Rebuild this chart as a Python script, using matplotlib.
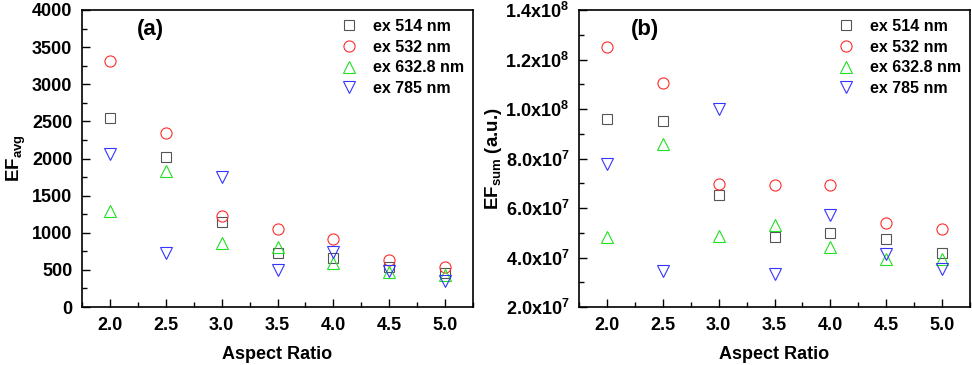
import matplotlib.pyplot as plt
from matplotlib.ticker import MultipleLocator

# aspect ratios
ratio = [2.0, 2.5, 3.0, 3.5, 4.0, 4.5, 5.0]

# (a) average enhancement factor
ef_avg_514 = [2540, 2020, 1150, 725, 655, 540, 455]
ef_avg_532 = [3313, 2343, 1230, 1046, 911, 628, 543]
ef_avg_633 = [1290, 1830, 865, 805, 595, 470, 425]
ef_avg_785 = [2056, 723, 1755, 498, 745, 480, 355]

# (b) summed enhancement factor (a.u.)
ef_sum_514 = [9.58e7, 9.50e7, 6.53e7, 4.81e7, 4.99e7, 4.76e7, 4.17e7]
ef_sum_532 = [1.249e8, 1.105e8, 6.97e7, 6.94e7, 6.92e7, 5.38e7, 5.17e7]
ef_sum_633 = [4.84e7, 8.59e7, 4.86e7, 5.30e7, 4.41e7, 3.93e7, 3.93e7]
ef_sum_785 = [7.78e7, 3.45e7, 9.99e7, 3.35e7, 5.70e7, 4.14e7, 3.52e7]

labels = ["ex 514 nm", "ex 532 nm", "ex 632.8 nm", "ex 785 nm"]
b_ticks = [2e7, 4e7, 6e7, 8e7, 1e8, 1.2e8, 1.4e8]
b_ticklabels = [r"2.0x10$^{7}$", r"4.0x10$^{7}$", r"6.0x10$^{7}$",
                r"8.0x10$^{7}$", r"1.0x10$^{8}$", r"1.2x10$^{8}$",
                r"1.4x10$^{8}$"]

plt.rcParams["font.family"] = ["Liberation Sans", "DejaVu Sans"]
plt.rcParams["font.weight"] = "bold"
plt.rcParams["axes.labelweight"] = "bold"
plt.rcParams["mathtext.fontset"] = "custom"
plt.rcParams["mathtext.rm"] = "Liberation Sans:bold"
plt.rcParams["mathtext.bf"] = "Liberation Sans:bold"
plt.rcParams["mathtext.default"] = "rm"
plt.rcParams["font.size"] = 13

# marker, colour, size
styles = [("s", "#555555", 7), ("o", "#ff2a2a", 8),
          ("^", "#22e022", 8.5), ("v", "#3535ff", 8.5)]

fig = plt.figure(figsize=(9.72, 3.65), dpi=100)
ax_a = fig.add_axes([82 / 972, 58 / 365, 391 / 972, 297 / 365])
ax_b = fig.add_axes([579 / 972, 58 / 365, 391 / 972, 297 / 365])


def draw(ax, series):
    for (m, c, ms), ys, lab in zip(styles, series, labels):
        ax.plot(ratio, ys, linestyle="none", marker=m, markersize=ms,
                markerfacecolor="none", markeredgecolor=c,
                markeredgewidth=0.8, label=lab)
    ax.set_xlim(1.75, 5.25)
    ax.xaxis.set_minor_locator(MultipleLocator(0.25))
    ax.set_xticks(ratio)
    ax.set_xticklabels([f"{r:.1f}" for r in ratio])
    ax.tick_params(which="both", direction="in", width=1, top=False, right=False)
    ax.tick_params(which="major", length=6, pad=7)
    ax.tick_params(which="minor", length=3.5)
    for s in ax.spines.values():
        s.set_linewidth(1.2)
    ax.set_xlabel("Aspect Ratio", labelpad=9, fontsize=13)
    ax.legend(loc="upper right", frameon=False, handlelength=1.0,
              handletextpad=1.0, labelspacing=0.36, borderpad=0.4,
              borderaxespad=0.15, fontsize=11.5)


draw(ax_a, [ef_avg_514, ef_avg_532, ef_avg_633, ef_avg_785])
ax_a.set_ylim(0, 4000)
ax_a.yaxis.set_major_locator(MultipleLocator(500))
ax_a.yaxis.set_minor_locator(MultipleLocator(250))
ax_a.set_ylabel("EF$_{avg}$", labelpad=3, fontsize=13.5)
ax_a.text(0.174, 0.935, "(a)", transform=ax_a.transAxes, ha="center",
          va="center", fontsize=16)

draw(ax_b, [ef_sum_514, ef_sum_532, ef_sum_633, ef_sum_785])
ax_b.set_ylim(2e7, 1.4e8)
ax_b.set_yticks(b_ticks)
ax_b.set_yticklabels(b_ticklabels)
ax_b.yaxis.set_minor_locator(MultipleLocator(1e7))
ax_b.set_ylabel("EF$_{sum}$ (a.u.)", labelpad=1, fontsize=13.5)
ax_b.text(0.168, 0.935, "(b)", transform=ax_b.transAxes, ha="center",
          va="center", fontsize=16)

fig.savefig("out.png", dpi=100)
